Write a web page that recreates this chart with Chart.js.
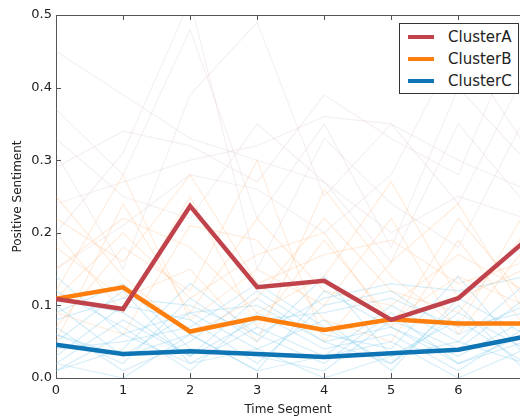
<!DOCTYPE html>
<html>
<head>
<meta charset="utf-8">
<script src="https://cdn.jsdelivr.net/npm/chart.js@4/dist/chart.umd.min.js"></script>
<style>
html, body { margin: 0; padding: 0; background: #fff; overflow: hidden; }
#wrap { position: relative; width: 520px; height: 419px; }
#legend { position: absolute; left: 399px; top: 23px; width: 120px; height: 71px;
  border: 1px solid #333; background: #fff; box-sizing: border-box; padding-top: 2px;
  font-family: "DejaVu Sans", sans-serif; font-size: 15px; color: #222; }
.row { display: flex; align-items: center; height: 22px; }
.sw { width: 26px; height: 4px; margin-left: 8px; margin-right: 14px; }
</style>
</head>
<body>
<div id="wrap">
  <canvas id="mycanvas" width="520" height="419"></canvas>
  <div id="legend"></div>
</div>
<script>
// time segments
var segments = [0, 1, 2, 3, 4, 5, 6, 7];
var yTicks = [0, 0.1, 0.2, 0.3, 0.4, 0.5];

// cluster means
var clusterNames = ["ClusterA", "ClusterB", "ClusterC"];
var clusterColors = ["#c0434b", "#ff7f0e", "#0f74b4"];
var clusterA = [0.109, 0.095, 0.237, 0.125, 0.134, 0.080, 0.110, 0.189];
var clusterB = [0.109, 0.125, 0.064, 0.083, 0.066, 0.081, 0.075, 0.075];
var clusterC = [0.046, 0.033, 0.037, 0.033, 0.029, 0.034, 0.039, 0.057];

// faint individual lines behind (estimated)
var faintBlue = [
  [0.02,0.08,0.03,0.11,0.05,0.02,0.09,0.04],
  [0.10,0.03,0.06,0.01,0.12,0.07,0.03,0.08],
  [0.05,0.12,0.02,0.07,0.03,0.10,0.05,0.13],
  [0.14,0.06,0.09,0.04,0.08,0.01,0.11,0.06],
  [0.01,0.04,0.13,0.06,0.02,0.09,0.02,0.05],
  [0.07,0.01,0.05,0.12,0.06,0.04,0.14,0.03],
  [0.03,0.10,0.08,0.02,0.10,0.12,0.06,0.10],
  [0.12,0.07,0.01,0.09,0.04,0.06,0.01,0.07],
  [0.06,0.02,0.11,0.05,0.14,0.03,0.08,0.02],
  [0.09,0.13,0.04,0.03,0.01,0.08,0.04,0.11],
  [0.04,0.05,0.07,0.13,0.07,0.02,0.10,0.01],
  [0.11,0.09,0.03,0.08,0.09,0.11,0.07,0.09],
  [0.02,0.00,0.06,0.01,0.03,0.05,0.00,0.04],
  [0.08,0.11,0.10,0.06,0.11,0.13,0.12,0.14],
  [0.01,0.06,0.02,0.04,0.00,0.03,0.05,0.02],
  [0.06,0.03,0.09,0.10,0.05,0.07,0.02,0.06]
];
var faintOrange = [
  [0.12,0.28,0.08,0.15,0.10,0.22,0.06,0.18],
  [0.20,0.09,0.25,0.07,0.19,0.08,0.14,0.10],
  [0.07,0.18,0.12,0.30,0.05,0.16,0.24,0.09],
  [0.25,0.14,0.06,0.11,0.22,0.12,0.09,0.20],
  [0.15,0.22,0.18,0.09,0.14,0.27,0.11,0.15],
  [0.09,0.06,0.21,0.19,0.08,0.05,0.19,0.07],
  [0.18,0.11,0.15,0.05,0.26,0.14,0.07,0.23],
  [0.05,0.24,0.09,0.22,0.12,0.10,0.17,0.12],
  [0.22,0.16,0.28,0.13,0.17,0.19,0.13,0.16],
  [0.11,0.20,0.11,0.17,0.20,0.07,0.22,0.11]
];
var faintGrey = [
  [0.45,0.39,0.33,0.30,0.27,0.20,0.25,0.22],
  [0.37,0.28,0.48,0.22,0.35,0.18,0.40,0.30],
  [0.29,0.34,0.32,0.27,0.39,0.33,0.28,0.50],
  [0.20,0.31,0.52,0.15,0.33,0.24,0.18,0.36],
  [0.31,0.15,0.39,0.49,0.25,0.35,0.30,0.26],
  [0.24,0.27,0.30,0.32,0.36,0.35,0.24,0.42],
  [0.15,0.21,0.28,0.26,0.20,0.28,0.46,0.32],
  [0.33,0.25,0.22,0.35,0.27,0.16,0.35,0.24]
];

function pts(vals) {
  var out = [];
  for (var i in vals) out.push({x: segments[i], y: vals[i]});
  return out;
}

var datasets = [];
var mains = [clusterA, clusterB, clusterC];
for (var i = 0; i < mains.length; i++) {
  datasets.push({
    label: clusterNames[i], data: pts(mains[i]),
    borderColor: clusterColors[i], borderWidth: 4.5,
    pointRadius: 0, tension: 0, order: i
  });
}
function addFaint(list, color) {
  for (var j in list) {
    datasets.push({
      label: "", data: pts(list[j]), borderColor: color, borderWidth: 1.2,
      pointRadius: 0, tension: 0, order: 10
    });
  }
}
addFaint(faintGrey, "rgba(205,170,170,0.18)");
addFaint(faintOrange, "rgba(255,165,90,0.2)");
addFaint(faintBlue, "rgba(120,200,235,0.3)");

// legend box inside the plot
var lg = document.getElementById("legend");
for (var k = 0; k < clusterNames.length; k++) {
  lg.innerHTML += '<div class="row"><div class="sw" style="background:' + clusterColors[k] +
    '"></div><span>' + clusterNames[k] + '</span></div>';
}

// inward tick marks + top border, like the matplotlib frame
var frame = {
  id: "frame",
  afterDraw: function(chart) {
    var c = chart.ctx, a = chart.chartArea;
    var xs = chart.scales.x, ys = chart.scales.y;
    c.save();
    c.strokeStyle = "#555";
    c.lineWidth = 1;
    c.beginPath();
    c.moveTo(a.left, a.top + 0.5); c.lineTo(a.right, a.top + 0.5);
    for (var i = 0; i < 7; i++) {
      var px = Math.round(xs.getPixelForValue(segments[i])) + 0.5;
      c.moveTo(px, a.bottom); c.lineTo(px, a.bottom - 5);
      c.moveTo(px, a.top); c.lineTo(px, a.top + 5);
    }
    for (var j in yTicks) {
      var py = Math.round(ys.getPixelForValue(yTicks[j])) + 0.5;
      c.moveTo(a.left, py); c.lineTo(a.left + 5, py);
    }
    c.stroke();
    c.restore();
  }
};

Chart.defaults.font.family = "'DejaVu Sans', sans-serif";
Chart.defaults.color = "#222";

var ctx = document.getElementById("mycanvas");
var chart = new Chart(ctx, {
  type: "line",
  data: { datasets: datasets },
  options: {
    responsive: false,
    animation: false,
    layout: { padding: { top: 15, right: 0, left: 0, bottom: 0 } },
    plugins: { legend: { display: false }, tooltip: { enabled: false } },
    scales: {
      x: {
        type: "linear", min: 0, max: 6.92,
        grid: { display: false, drawTicks: false },
        border: { display: true, color: "#555", width: 1 },
        afterBuildTicks: function(s) {
          s.ticks = segments.slice(0, 7).map(function(v) { return {value: v}; });
        },
        afterFit: function(s) { s.height = 41; },
        ticks: { padding: 5, font: { size: 13 }, maxRotation: 0 },
        title: { display: true, text: "Time Segment", font: { size: 12 }, padding: { top: 0, bottom: 2 } }
      },
      y: {
        min: 0, max: 0.5,
        grid: { display: false, drawTicks: false },
        border: { display: true, color: "#555", width: 1 },
        afterBuildTicks: function(s) {
          s.ticks = yTicks.map(function(v) { return {value: v}; });
        },
        afterFit: function(s) { s.width = 56; },
        ticks: { padding: 4, font: { size: 13 }, callback: function(v) { return v.toFixed(1); } },
        title: { display: true, text: "Positive Sentiment", font: { size: 12 }, padding: { top: 11, bottom: 4 } }
      }
    }
  },
  plugins: [frame]
});
</script>
</body>
</html>
